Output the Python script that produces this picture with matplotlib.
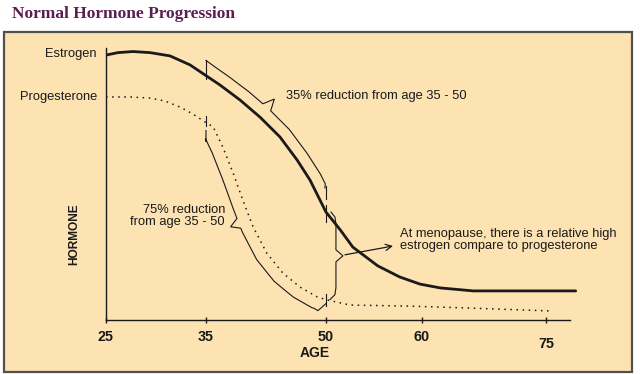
import numpy as np
import matplotlib
matplotlib.use('Agg')
import matplotlib.pyplot as plt
from matplotlib.transforms import IdentityTransform, ScaledTranslation
from matplotlib.patches import Rectangle

# values (age, relative hormone level 0-100)
est_age = [25, 26.2, 27.7, 29.4, 31.4, 33.4, 34.9, 36.75, 39.25, 41.75, 44.25, 46.4,
           48, 50, 51.5, 52.8, 55.4, 57.7, 59.8, 62.2, 66.2, 78.6]
est_val = [97.4, 98.3, 98.7, 98.3, 97.1, 93.8, 90.1, 86.4, 80.9, 74.6, 67.3, 58.8,
           51.5, 39.7, 33.1, 26.8, 19.9, 15.8, 13.2, 11.8, 10.7, 10.7]
prog_age = [25, 27.4, 29.4, 30.9, 32.4, 33.7, 34.9, 35.9, 37.1, 38.4, 39.6, 40.9,
            42.6, 44.6, 46.75, 48.9, 50.1, 52.5, 58.75, 65.6, 75.8]
prog_val = [82.0, 82.0, 81.6, 80.5, 78.3, 75.7, 72.8, 71.0, 63.6, 54.0, 44.1, 34.2,
            24.6, 17.3, 12.1, 8.5, 7.4, 5.5, 5.1, 4.4, 3.3]
tick_ages = [25, 35, 50, 60, 75]
tick_labels = ['25', '35', '50', '60', '75']

W, H = 640, 374
INK = '#1a1a1a'
plt.rcParams['font.family'] = ['Liberation Sans', 'DejaVu Sans']

# the hand drawn age axis is not evenly spaced
sc_age = [0, 25, 35, 50, 60, 75, 100]
sc_pos = [-250, 0, 100, 220, 316, 440, 647]
fwd = lambda a: np.interp(a, sc_age, sc_pos)
inv = lambda p: np.interp(p, sc_pos, sc_age)


def P(x, y):
    # picture pixel -> figure fraction
    return x / W, 1 - y / H


fig = plt.figure(figsize=(W / 100, H / 100), dpi=100)
fig.add_artist(Rectangle(P(4, 372), 628 / W, 340 / H, transform=fig.transFigure,
                         facecolor='#fde2b2', edgecolor='#505050', lw=1.6, zorder=0))

ax = fig.add_axes([106 / W, 54 / H, 473 / W, 272 / H])
ax.set_facecolor('none')
ax.set_xscale('function', functions=(fwd, inv))
ax.set_xlim(25, 79)
ax.set_ylim(0, 100)
for s in ['top', 'right']:
    ax.spines[s].set_visible(False)
ax.spines['bottom'].set_bounds(25, 77.9)
ax.spines['left'].set_bounds(0, 100)
for s in ['left', 'bottom']:
    ax.spines[s].set_linewidth(1.0)
    ax.spines[s].set_color(INK)
ax.set_yticks([])
ax.set_xticks(tick_ages)
ax.set_xticklabels(tick_labels, fontsize=10.4, fontweight='bold', color=INK)
ax.xaxis.set_minor_locator(matplotlib.ticker.NullLocator())
ax.tick_params(axis='x', direction='inout', length=5, width=1, pad=5, color=INK)
lab75 = ax.get_xticklabels()[-1]
lab75.set_transform(lab75.get_transform() + ScaledTranslation(0, -7 / 100, fig.dpi_scale_trans))

ax.plot(est_age, est_val, color=INK, lw=2.0, solid_capstyle='round', solid_joinstyle='round')
ax.plot(prog_age, prog_val, color=INK, lw=1.1, linestyle=(0, (1, 3)))

ID = IdentityTransform()


def disp(age, val):
    return ax.transData.transform(np.column_stack([np.atleast_1d(age), np.atleast_1d(val)]))


def draw(pts, **kw):
    pts = np.asarray(pts)
    ax.plot(pts[:, 0], pts[:, 1], transform=ID, clip_on=False, color=INK,
            lw=kw.pop('lw', 0.8), **kw)


def along_brace(ages, vals, a, b, off, tip_age, tip, side):
    # offset copy of a curve between two ages, with a small spike at tip_age
    t = np.linspace(a, b, 400)
    p = disp(t, np.interp(t, ages, vals))
    d = np.gradient(p, axis=0)
    k = np.ones(61) / 61
    d = np.column_stack([np.convolve(d[:, 0], k, 'same'), np.convolve(d[:, 1], k, 'same')])
    d /= np.hypot(d[:, 0], d[:, 1])[:, None]
    n = side * np.column_stack([-d[:, 1], d[:, 0]])
    s = np.concatenate([[0], np.cumsum(np.hypot(*np.diff(p, axis=0).T))])
    st = np.interp(tip_age, t, s)
    o = off + tip * np.clip(1 - np.abs(s - st) / 5, 0, None)
    return p + n * o[:, None]


e35 = disp(35, np.interp(35, est_age, est_val))[0]
e50 = disp(50, np.interp(50, est_age, est_val))[0]
p35 = disp(35, np.interp(35, prog_age, prog_val))[0]
p50 = disp(50, np.interp(50, prog_age, prog_val))[0]

# little markers on the curves at 35 and 50
draw([e35 + (0, 15), e35 + (0, -4)])
draw([p35 + (0, 6), p35 + (0, -4)])
draw([e50 + (0, 26), e50 + (0, 13)])
draw([e50 + (0, 7), e50 + (0, -10)])
draw([p50 + (0, 6), p50 + (0, -6)])

# 35% brace above the estrogen curve
b1 = along_brace(est_age, est_val, 35.6, 48.6, 12, 41.6, 11, 1)
draw(np.vstack([e35 + (0, 15), b1, e50 + (-1, 24)]))

# 75% brace below the progesterone curve
b2 = along_brace(prog_age, prog_val, 36.3, 49.2, 12, 40.5, 9, -1)
draw(np.vstack([p35 + (0, -8), p35 + (0, -19), b2, p50 + (-8, -11), p50 + (0, -4)]))

# vertical brace at 50 between the two curves
L = e50[1] - p50[1]
u = np.array([0, 5, 12, L / 2 - 6, L / 2, L / 2 + 6, L - 12, L - 5, L])
xo = np.array([5, 9, 10, 10, 17, 10, 10, 9, 4])
draw(np.column_stack([e50[0] + xo, e50[1] - u]))
tip = (e50[0] + 19, e50[1] - L / 2 + 1)
ax.annotate('', xy=(393, H - 246), xycoords='figure pixels', xytext=tip,
            textcoords='figure pixels',
            arrowprops=dict(arrowstyle='->', color=INK, lw=0.9, shrinkA=0, shrinkB=0,
                            mutation_scale=11))

# text
fig.text(*P(12, 14), 'Normal Hormone Progression', ha='left', va='center',
         family=['Liberation Serif', 'DejaVu Serif'], fontweight='bold',
         fontsize=12.5, color='#5a1e50')
tk = dict(fontsize=9.3, color=INK)
fig.text(*P(97, 54), 'Estrogen', ha='right', va='center', **tk)
fig.text(*P(97, 97), 'Progesterone', ha='right', va='center', **tk)
fig.text(*P(286, 96), '35% reduction from age 35 - 50', ha='left', va='center', **tk)
fig.text(*P(225, 216), '75% reduction\nfrom age 35 - 50', ha='right', va='center',
         multialignment='right', linespacing=1.1, **tk)
fig.text(*P(400, 240), 'At menopause, there is a relative high\nestrogen compare to progesterone',
         ha='left', va='center', linespacing=1.1, **tk)
fig.text(*P(74, 234), 'HORMONE', rotation=90, ha='center', va='center',
         fontsize=8.6, fontweight='bold', color=INK)
fig.text(*P(315, 353), 'AGE', ha='center', va='center', fontsize=10,
         fontweight='bold', color=INK)

fig.savefig('out.png', dpi=100)
